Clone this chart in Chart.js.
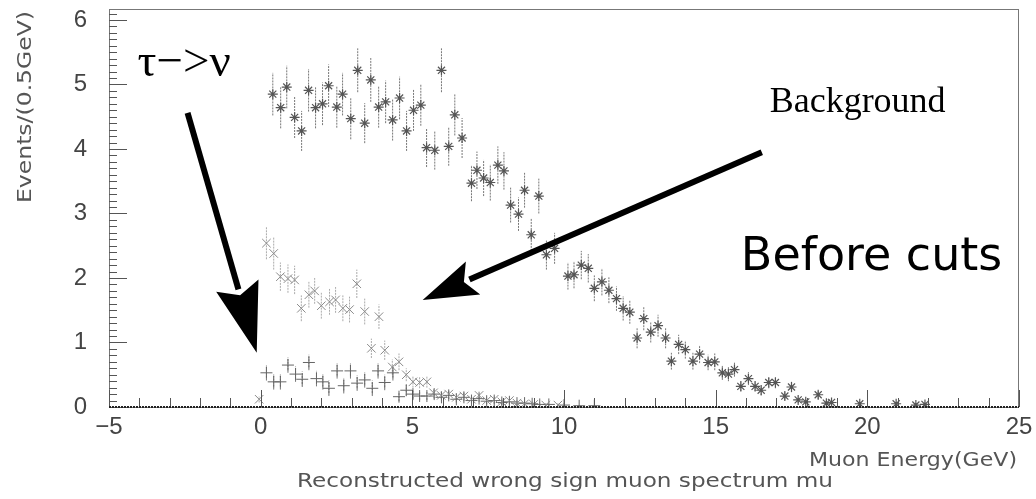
<!DOCTYPE html>
<html>
<head>
<meta charset="utf-8">
<script src="https://cdn.jsdelivr.net/npm/chart.js@4.4.1/dist/chart.umd.min.js"></script>
<style>
    body { margin: 0; background: #fff; }
    #wrap { width: 1036px; height: 499px; position: relative; }
</style>
</head>
<body>
<div id="wrap"><canvas id="muonChart"></canvas></div>
<script>
// ---- data ----
const xTicks = [-5, 0, 5, 10, 15, 20, 25];
const yTicks = [0, 1, 2, 3, 4, 5, 6];

// asterisk series (with error bars)
const energySig = [0.40, 0.66, 0.86, 1.12, 1.35, 1.58, 1.81, 2.04, 2.24, 2.51,
    2.70, 2.97, 3.20, 3.43, 3.63, 3.89, 4.12, 4.35, 4.58, 4.81,
    5.04, 5.28, 5.47, 5.74, 5.96, 6.20, 6.40, 6.64, 6.95, 7.13,
    7.35, 7.57, 7.82, 8.02, 8.24, 8.50, 8.70, 8.92, 9.17, 9.42,
    9.69, 10.13, 10.33, 10.57, 10.80, 11.00, 11.25, 11.48, 11.73, 11.95,
    12.17, 12.41, 12.63, 12.86, 13.10, 13.35, 13.54, 13.78, 14.00, 14.25,
    14.47, 14.75, 14.97, 15.22, 15.42, 15.62, 15.83, 16.08, 16.30, 16.50,
    16.75, 16.97, 17.28, 17.50, 17.72, 17.97, 18.38, 18.65, 18.82, 19.75,
    20.95, 21.60, 21.90];
const eventsSig = [4.85, 4.64, 4.96, 4.49, 4.28, 4.91, 4.64, 4.70, 4.98, 4.65,
    4.85, 4.47, 5.22, 4.40, 5.07, 4.65, 4.73, 4.45, 4.79, 4.28,
    4.60, 4.68, 4.02, 3.98, 5.22, 4.04, 4.53, 4.17, 3.47, 3.67,
    3.55, 3.48, 3.75, 3.66, 3.13, 2.99, 3.36, 2.67, 3.27, 2.36,
    2.46, 2.03, 2.05, 2.20, 2.15, 1.84, 1.94, 1.81, 1.68, 1.53,
    1.47, 1.07, 1.37, 1.16, 1.26, 1.07, 0.71, 0.97, 0.89, 0.71,
    0.82, 0.69, 0.70, 0.53, 0.51, 0.58, 0.32, 0.44, 0.32, 0.26,
    0.38, 0.38, 0.17, 0.31, 0.11, 0.08, 0.19, 0.06, 0.07, 0.05,
    0.05, 0.03, 0.04];
const errSig = [0.33, 0.32, 0.33, 0.32, 0.31, 0.33, 0.32, 0.33, 0.33, 0.32,
    0.33, 0.32, 0.34, 0.31, 0.34, 0.32, 0.33, 0.32, 0.33, 0.31,
    0.32, 0.32, 0.30, 0.30, 0.34, 0.30, 0.32, 0.31, 0.28, 0.29,
    0.28, 0.28, 0.29, 0.29, 0.27, 0.26, 0.27, 0.25, 0.27, 0.23,
    0.24, 0.21, 0.21, 0.22, 0.22, 0.20, 0.21, 0.20, 0.19, 0.19,
    0.18, 0.16, 0.18, 0.16, 0.17, 0.16, 0.13, 0.15, 0.14, 0.13,
    0.14, 0.12, 0.13, 0.11, 0.11, 0.11, 0.08, 0.10, 0.08, 0.08,
    0.09, 0.09, 0.06, 0.08, 0.05, 0.04, 0.07, 0.04, 0.04, 0.03,
    0.03, 0.03, 0.03];

// light "x" series
const energyBkg = [-0.05, 0.19, 0.43, 0.65, 0.90, 1.12, 1.34, 1.59, 1.78, 2.00,
    2.27, 2.47, 2.71, 2.93, 3.17, 3.43, 3.65, 3.90, 4.09, 4.34,
    4.56, 4.80, 5.02, 5.24, 5.48, 5.70, 5.95, 6.20, 6.45, 6.70,
    6.95, 7.20, 7.45, 7.70, 7.95, 8.20, 8.45, 8.70, 9.00, 9.40, 9.80];
const eventsBkg = [0.12, 2.54, 2.38, 2.02, 1.99, 1.97, 1.53, 1.74, 1.80, 1.57,
    1.63, 1.66, 1.53, 1.51, 1.91, 1.48, 0.91, 1.40, 0.88, 0.62,
    0.70, 0.50, 0.39, 0.38, 0.39, 0.22, 0.18, 0.20, 0.15, 0.17,
    0.12, 0.18, 0.10, 0.12, 0.08, 0.10, 0.06, 0.05, 0.04, 0.03, 0.03];
const errBkg = [0.05, 0.25, 0.25, 0.22, 0.22, 0.22, 0.20, 0.20, 0.20, 0.20,
    0.20, 0.20, 0.20, 0.20, 0.22, 0.20, 0.15, 0.19, 0.15, 0.12,
    0.13, 0.10, 0.09, 0.09, 0.09, 0.07, 0.06, 0.07, 0.06, 0.06,
    0.05, 0.06, 0.05, 0.05, 0.04, 0.05, 0.04, 0.03, 0.03, 0.03, 0.03];

// "+" series
const energyTau = [0.19, 0.43, 0.65, 0.90, 1.15, 1.37, 1.59, 1.84, 2.05, 2.25,
    2.52, 2.74, 2.96, 3.18, 3.43, 3.68, 3.87, 4.09, 4.36, 4.56,
    4.80, 5.02, 5.24, 5.48, 5.72, 5.96, 6.20, 6.45, 6.70, 6.95,
    7.20, 7.45, 7.70, 7.95, 8.20, 8.45, 8.70, 8.95, 9.20, 9.50,
    10.00, 10.50, 11.00];
const eventsTau = [0.53, 0.39, 0.39, 0.65, 0.51, 0.43, 0.69, 0.44, 0.39, 0.29,
    0.56, 0.33, 0.56, 0.37, 0.42, 0.29, 0.56, 0.38, 0.53, 0.16,
    0.26, 0.20, 0.17, 0.17, 0.20, 0.15, 0.18, 0.12, 0.15, 0.10,
    0.13, 0.09, 0.10, 0.07, 0.08, 0.06, 0.06, 0.05, 0.04, 0.04,
    0.03, 0.02, 0.02];
const errTau = [0.12, 0.12, 0.12, 0.12, 0.12, 0.12, 0.12, 0.12, 0.12, 0.12,
    0.12, 0.12, 0.12, 0.12, 0.12, 0.12, 0.12, 0.12, 0.12, 0.07,
    0.08, 0.07, 0.06, 0.06, 0.07, 0.06, 0.06, 0.05, 0.06, 0.05,
    0.05, 0.05, 0.05, 0.04, 0.04, 0.04, 0.04, 0.03, 0.03, 0.03,
    0.03, 0.02, 0.02];

// annotations (in axis units)
const arrowTau = { from: [-2.41, 4.56], to: [-0.13, 0.84], head: 70, half: 22 };
const arrowBkg = { from: [16.52, 3.95], to: [5.34, 1.66], head: 55, half: 18 };
const labels = [
    { text: 'τ−>ν', at: [-4.06, 5.13], font: '47px "Liberation Serif"' },
    { text: 'Background', at: [16.78, 4.57], font: '36px "Liberation Serif"' },
    { text: 'Before cuts', at: [15.83, 2.12], font: '46px "DejaVu Sans"' }
];

const toPoints = (xs, ys) => xs.map((x, i) => ({ x: x, y: ys[i] }));

function drawArrow(ctx, x0, y0, x1, y1, head, half) {
    const len = Math.hypot(x1 - x0, y1 - y0);
    const ux = (x1 - x0) / len, uy = (y1 - y0) / len;
    const bx = x1 - ux * head, by = y1 - uy * head;
    ctx.beginPath();
    ctx.moveTo(x0, y0);
    ctx.lineTo(bx + ux * 4, by + uy * 4);
    ctx.stroke();
    ctx.beginPath();
    ctx.moveTo(x1, y1);
    ctx.lineTo(bx - uy * half, by + ux * half);
    ctx.lineTo(bx + ux * 10, by + uy * 10);
    ctx.lineTo(bx + uy * half, by - ux * half);
    ctx.closePath();
    ctx.fill();
}

// draw text squeezed/stretched to a given width
function fitText(ctx, text, width) {
    const w = ctx.measureText(text).width;
    ctx.scale(width / w, 1);
    ctx.fillText(text, 0, 0);
}

const errorBars = {
    id: 'errorBars',
    beforeDatasetsDraw(chart) {
        const { ctx, scales: { x, y } } = chart;
        chart.data.datasets.forEach(ds => {
            ctx.save();
            ctx.strokeStyle = ds.errorColor;
            ctx.lineWidth = 1;
            ctx.setLineDash([2, 1]);
            ds.data.forEach((p, i) => {
                const px = x.getPixelForValue(p.x);
                ctx.beginPath();
                ctx.moveTo(px, y.getPixelForValue(Math.max(p.y - ds.errors[i], 0)));
                ctx.lineTo(px, y.getPixelForValue(p.y + ds.errors[i]));
                ctx.stroke();
            });
            ctx.restore();
        });
    }
};

const frame = {
    id: 'frame',
    afterDatasetsDraw(chart) {
        const { ctx, chartArea: a, scales: { x, y } } = chart;
        ctx.save();
        // box
        ctx.strokeStyle = '#777';
        ctx.lineWidth = 1;
        ctx.strokeRect(a.left + 0.5, a.top + 0.5, a.right - a.left - 1, a.bottom - a.top);
        // inward ticks on y
        ctx.strokeStyle = '#555';
        for (let i = 0; i <= 61; i++) {
            const py = Math.round(y.getPixelForValue(i / 10)) + 0.5;
            const l = i % 10 === 0 ? 18 : 8;
            ctx.beginPath(); ctx.moveTo(a.left, py); ctx.lineTo(a.left + l, py); ctx.stroke();
        }
        // inward ticks on x
        for (let v = -5; v <= 25; v++) {
            const px = Math.round(x.getPixelForValue(v)) + 0.5;
            const l = v % 5 === 0 ? 17 : 9;
            ctx.beginPath(); ctx.moveTo(px, a.bottom); ctx.lineTo(px, a.bottom - l); ctx.stroke();
        }
        // bottom axis line
        ctx.strokeStyle = '#222';
        ctx.lineWidth = 2;
        ctx.setLineDash([2, 1]);
        ctx.beginPath(); ctx.moveTo(a.left, a.bottom); ctx.lineTo(a.right, a.bottom); ctx.stroke();
        ctx.setLineDash([]);

        // arrows
        ctx.strokeStyle = '#000';
        ctx.fillStyle = '#000';
        ctx.lineWidth = 6;
        [arrowTau, arrowBkg].forEach(ar => {
            drawArrow(ctx,
                x.getPixelForValue(ar.from[0]), y.getPixelForValue(ar.from[1]),
                x.getPixelForValue(ar.to[0]), y.getPixelForValue(ar.to[1]),
                ar.head, ar.half);
        });

        // text annotations
        ctx.textBaseline = 'alphabetic';
        ctx.textAlign = 'left';
        labels.forEach(l => {
            ctx.font = l.font;
            ctx.fillText(l.text, x.getPixelForValue(l.at[0]), y.getPixelForValue(l.at[1]));
        });

        // axis titles
        ctx.fillStyle = '#555';
        ctx.font = '20px "DejaVu Sans"';
        ctx.save();
        ctx.translate(31, 107);
        ctx.rotate(-Math.PI / 2);
        ctx.textAlign = 'center';
        fitText(ctx, 'Events/(0.5GeV)', 192);
        ctx.restore();

        ctx.textAlign = 'right';
        ctx.save();
        ctx.translate(a.right - 2, 466);
        fitText(ctx, 'Muon Energy(GeV)', 208);
        ctx.restore();

        ctx.font = '19px "DejaVu Sans"';
        ctx.textAlign = 'center';
        ctx.save();
        ctx.translate(565, 487);
        fitText(ctx, 'Reconstructed wrong sign muon spectrum mu', 536);
        ctx.restore();
        ctx.restore();
    }
};

new Chart(document.getElementById('muonChart'), {
    type: 'scatter',
    data: {
        datasets: [{
            data: toPoints(energySig, eventsSig),
            errors: errSig,
            errorColor: '#777',
            pointStyle: 'star',
            radius: 5,
            borderColor: '#555',
            borderWidth: 1.2
        }, {
            data: toPoints(energyBkg, eventsBkg),
            errors: errBkg,
            errorColor: '#aaa',
            pointStyle: 'crossRot',
            radius: 6,
            borderColor: '#8a8a8a',
            borderWidth: 1
        }, {
            data: toPoints(energyTau, eventsTau),
            errors: errTau,
            errorColor: '#777',
            pointStyle: 'cross',
            radius: 6,
            borderColor: '#666',
            borderWidth: 1
        }]
    },
    options: {
        responsive: true,
        maintainAspectRatio: false,
        animation: false,
        layout: { padding: { top: 9, right: 17, left: 0, bottom: 0 } },
        plugins: {
            legend: { display: false },
            tooltip: { enabled: false }
        },
        scales: {
            x: {
                type: 'linear',
                min: -5,
                max: 25,
                grid: { display: false, drawTicks: false },
                border: { display: false },
                afterBuildTicks: scale => { scale.ticks = xTicks.map(v => ({ value: v })); },
                afterFit: scale => {
                    scale.height = 92;
                    scale.paddingLeft = 0;
                    scale.paddingRight = 0;
                },
                ticks: {
                    padding: 6,
                    color: '#444',
                    maxRotation: 0,
                    font: { family: 'Liberation Sans', size: 24 },
                    callback: v => v < 0 ? '−' + Math.abs(v) : String(v)
                }
            },
            y: {
                min: 0,
                max: 6.17,
                grid: { display: false, drawTicks: false },
                border: { display: false },
                afterBuildTicks: scale => { scale.ticks = yTicks.map(v => ({ value: v })); },
                afterFit: scale => {
                    scale.width = 109;
                    scale.paddingTop = 0;
                    scale.paddingBottom = 0;
                },
                ticks: {
                    padding: 22,
                    color: '#444',
                    font: { family: 'Liberation Sans', size: 24 }
                }
            }
        }
    },
    plugins: [errorBars, frame]
});
</script>
</body>
</html>
